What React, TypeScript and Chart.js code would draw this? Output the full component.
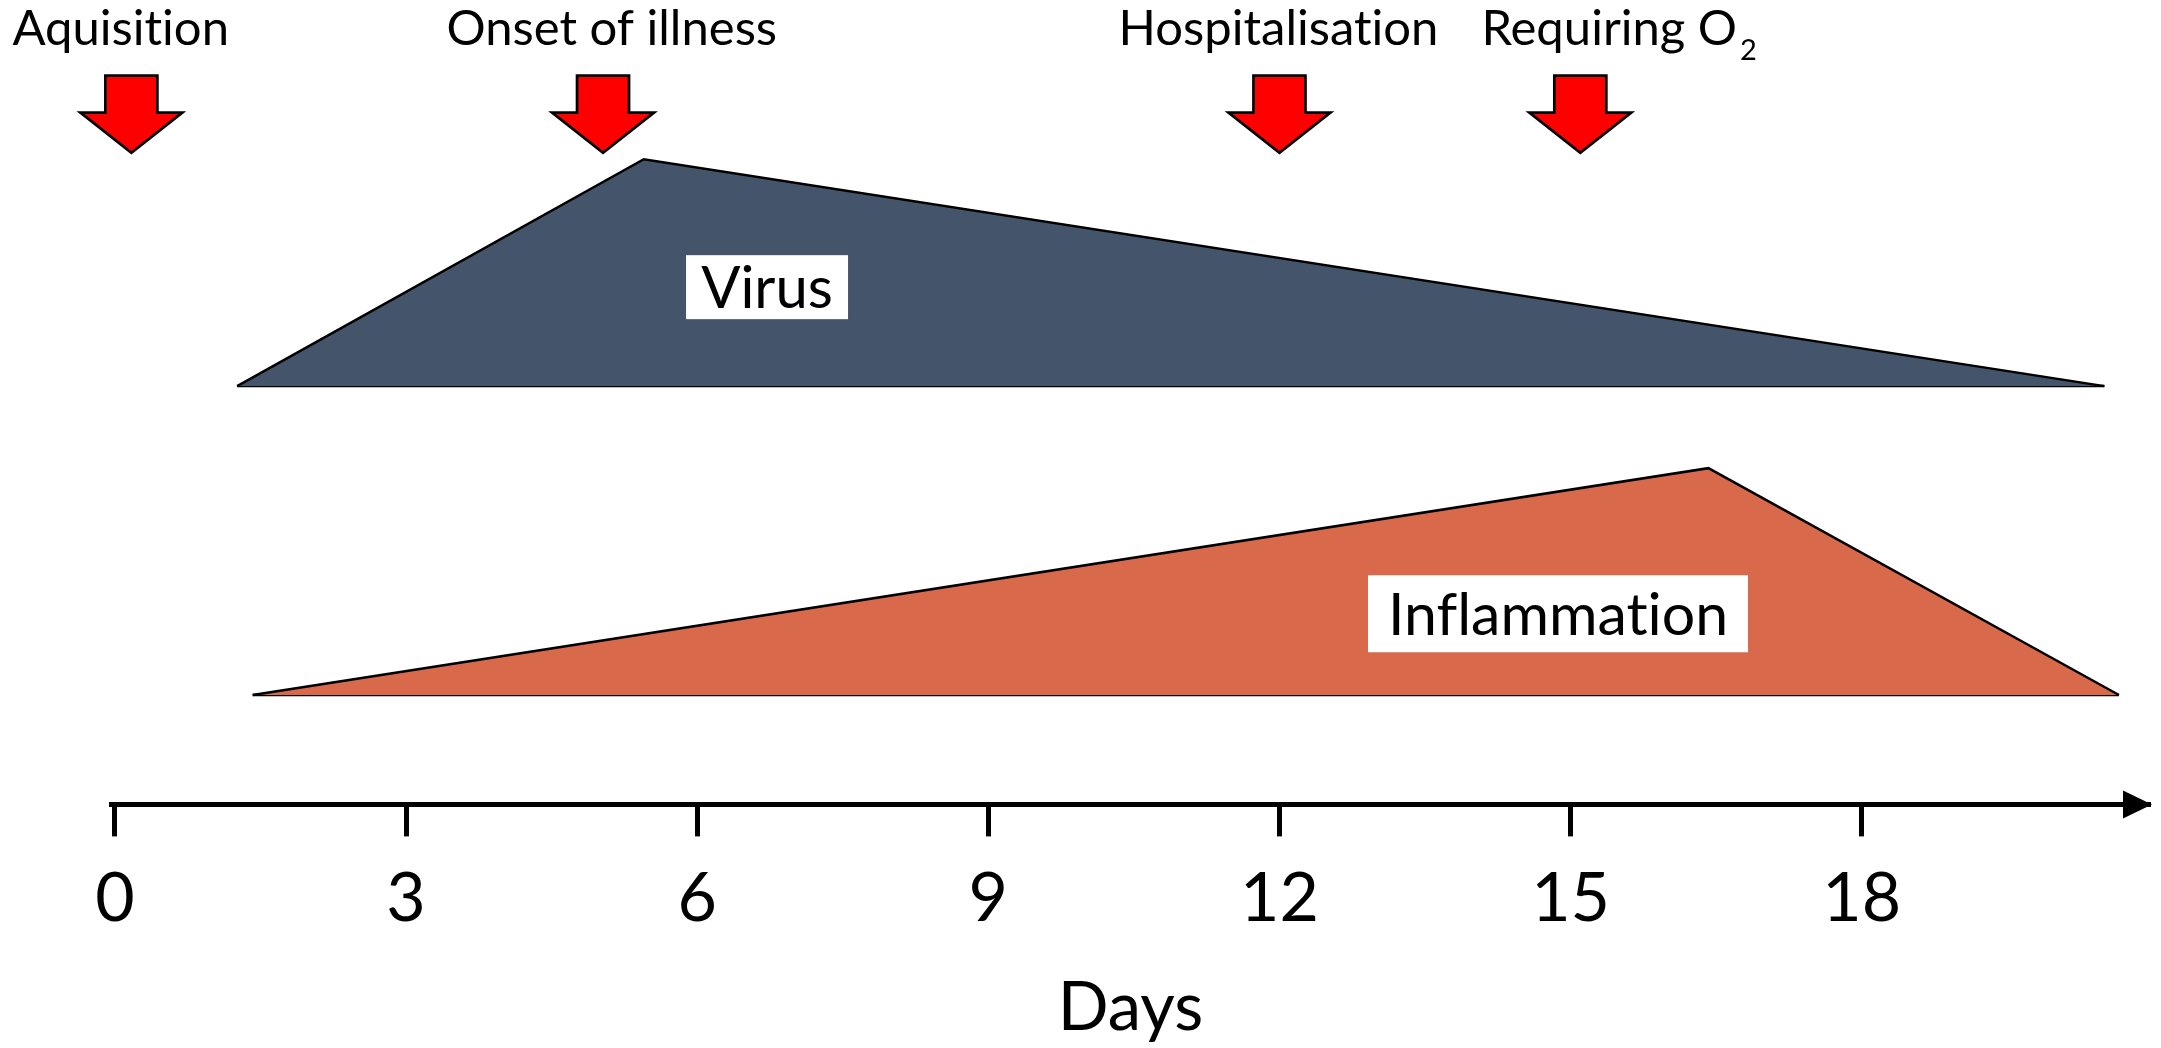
import React, { useEffect, useRef } from 'react';
import { Chart, registerables } from 'chart.js';

Chart.register(...registerables);

const FONT = 'Lato, Carlito, Calibri, "Open Sans", sans-serif';

// x axis (days)
const tickDays = [0, 3, 6, 9, 12, 15, 18];
const axisTitle = 'Days';
const xMin = -0.04;
const xMax = 20.97;
const yMin = 0;
const yMax = 100;

// series (arbitrary level units)
const virusDays = [1.26, 5.45, 20.5];
const virusLevel = [52.0, 80.2, 52.0];
const inflammationDays = [1.42, 16.42, 20.65];
const inflammationLevel = [13.6, 41.8, 13.6];

const seriesNames = ['Virus', 'Inflammation'];
const seriesColors = ['#44546A', '#D8694A'];
const seriesLabelDays = [6.72, 14.87];
const seriesLabelLevels = [64.3, 23.7];

// events
const eventNames = ['Aquisition', 'Onset of illness', 'Hospitalisation', 'Requiring O₂'];
const eventDays = [0.17, 5.03, 12.0, 15.1];
const eventLabelDays = [0.06, 5.12, 11.99, 15.5];
const arrowTopLevel = 90.6;
const arrowHeadLevel = 86.0;
const arrowTipLevel = 81.0;

const annotationPlugin = {
  id: 'annotations',
  afterDatasetsDraw(chart: any) {
    const { ctx } = chart;
    const x = chart.scales.x;
    const y = chart.scales.y;
    ctx.save();
    try {
      (ctx as any).textRendering = 'optimizeSpeed';
    } catch (e) {}

    // series label boxes
    const boxSizes = [58, 59];
    const boxWidths = [162, 380];
    const boxHeights = [64, 77];
    seriesNames.forEach((name, i) => {
      const cx = x.getPixelForValue(seriesLabelDays[i]);
      const cy = y.getPixelForValue(seriesLabelLevels[i]);
      const w = boxWidths[i];
      const h = boxHeights[i];
      ctx.fillStyle = '#ffffff';
      ctx.fillRect(cx - w / 2, cy - h / 2, w, h);
      ctx.font = `${boxSizes[i]}px ${FONT}`;
      ctx.fillStyle = '#000000';
      ctx.textAlign = 'center';
      ctx.textBaseline = 'alphabetic';
      ctx.fillText(name, cx, cy + (boxSizes[i] * 0.7165) / 2);
    });

    // event arrows
    const shaftHalf = 26;
    const headHalf = 51;
    eventDays.forEach((d) => {
      const cx = x.getPixelForValue(d);
      const top = y.getPixelForValue(arrowTopLevel);
      const head = y.getPixelForValue(arrowHeadLevel);
      const tip = y.getPixelForValue(arrowTipLevel);
      ctx.beginPath();
      ctx.moveTo(cx - shaftHalf, top);
      ctx.lineTo(cx + shaftHalf, top);
      ctx.lineTo(cx + shaftHalf, head);
      ctx.lineTo(cx + headHalf, head);
      ctx.lineTo(cx, tip);
      ctx.lineTo(cx - headHalf, head);
      ctx.lineTo(cx - shaftHalf, head);
      ctx.closePath();
      ctx.fillStyle = '#FF0000';
      ctx.fill();
      ctx.lineWidth = 2.7;
      ctx.strokeStyle = '#000000';
      ctx.lineJoin = 'miter';
      ctx.stroke();
    });

    // event labels
    const labelSize = 49;
    const subSize = 29;
    eventNames.forEach((name, i) => {
      const cx = x.getPixelForValue(eventLabelDays[i]);
      const baseline = y.getPixelForValue(arrowTopLevel) - 31;
      const parts = name.split('₂');
      ctx.fillStyle = '#000000';
      ctx.textBaseline = 'alphabetic';
      if (parts.length === 1) {
        ctx.font = `${labelSize}px ${FONT}`;
        ctx.textAlign = 'center';
        ctx.fillText(name, cx, baseline);
      } else {
        ctx.font = `${labelSize}px ${FONT}`;
        const wMain = ctx.measureText(parts[0]).width;
        ctx.font = `${subSize}px ${FONT}`;
        const wSub = ctx.measureText('2').width;
        const total = wMain + 3 + wSub;
        const left = cx - total / 2;
        ctx.textAlign = 'left';
        ctx.font = `${labelSize}px ${FONT}`;
        ctx.fillText(parts[0], left, baseline);
        ctx.font = `${subSize}px ${FONT}`;
        ctx.fillText('2', left + wMain + 3, baseline + 15);
      }
    });

    // axis arrowhead
    const ay = x.top;
    const ar = x.right;
    ctx.beginPath();
    ctx.moveTo(ar - 27, ay - 14);
    ctx.lineTo(ar + 2, ay);
    ctx.lineTo(ar - 27, ay + 14);
    ctx.closePath();
    ctx.fillStyle = '#000000';
    ctx.fill();

    ctx.restore();
  },
};

function polygonDatasets(name: string, days: number[], level: number[], color: string) {
  const base = level[0];
  return [
    {
      label: name,
      data: days.map((d, i) => ({ x: d, y: level[i] })),
      backgroundColor: color,
      borderColor: '#000000',
      borderWidth: 2.5,
      borderJoinStyle: 'miter',
      fill: { value: base },
      pointRadius: 0,
      tension: 0,
    },
    {
      label: name + ' baseline',
      data: [
        { x: days[0], y: base },
        { x: days[days.length - 1], y: base },
      ],
      borderColor: '#000000',
      borderWidth: 2.5,
      fill: false,
      pointRadius: 0,
      tension: 0,
    },
  ];
}

export default function App() {
  const canvasRef = useRef<HTMLCanvasElement | null>(null);

  useEffect(() => {
    if (!canvasRef.current) return;
    const chart = new Chart(canvasRef.current, {
      type: 'line',
      data: {
        datasets: [
          ...polygonDatasets(seriesNames[0], virusDays, virusLevel, seriesColors[0]),
          ...polygonDatasets(seriesNames[1], inflammationDays, inflammationLevel, seriesColors[1]),
        ],
      },
      options: {
        responsive: false,
        animation: false,
        devicePixelRatio: 1,
        layout: { padding: { left: 111, right: 11, top: 0, bottom: 0 } },
        plugins: {
          legend: { display: false },
          tooltip: { enabled: false },
        },
        scales: {
          x: {
            type: 'linear',
            min: xMin,
            max: xMax,
            afterBuildTicks: (axis: any) => {
              axis.ticks = tickDays.map((v) => ({ value: v }));
            },
            grid: {
              drawOnChartArea: false,
              drawTicks: true,
              tickLength: 32,
              tickWidth: 5,
              tickColor: '#000000',
            },
            border: { display: true, color: '#000000', width: 5 },
            ticks: {
              color: '#000000',
              font: { family: FONT, size: 68 },
              padding: 22,
              maxRotation: 0,
              autoSkip: false,
            },
            title: {
              display: true,
              text: axisTitle,
              color: '#000000',
              font: { family: FONT, size: 67, lineHeight: 1 },
              padding: { top: 13, bottom: 6 },
            },
          },
          y: { display: false, min: yMin, max: yMax },
        },
      },
      plugins: [annotationPlugin],
    } as any);
    return () => chart.destroy();
  }, []);

  return (
    <div style={{ position: 'absolute', left: 0, top: 0, width: 2161, height: 1048, background: '#ffffff' }}>
      <canvas ref={canvasRef} width={2161} height={1048} style={{ width: 2161, height: 1048, display: 'block' }} />
    </div>
  );
}
